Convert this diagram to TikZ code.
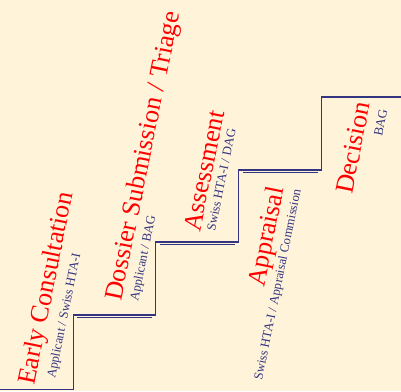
\documentclass[tikz,border=0pt]{standalone}
\usepackage{fontspec}
\setmainfont{Liberation Serif}
\definecolor{bg}{RGB}{255,244,218}
\definecolor{navy}{RGB}{52,52,128}
\begin{document}
\begin{tikzpicture}[x=1pt,y=-1pt,
  stair/.style={draw=navy, line width=1.2pt, line join=miter},
  echo/.style={draw=navy, line width=0.8pt},
  stage/.style={text=red, font=\fontsize{26}{26}\selectfont, rotate=78.5, anchor=base west, inner sep=0pt},
  actor/.style={text=navy, font=\fontsize{12.8}{13}\selectfont, rotate=78.5, anchor=base west, inner sep=0pt}]
\fill[bg] (0,0) rectangle (401,391);
\useasboundingbox (0,0) rectangle (401,391);
% staircase corners
\coordinate (c0) at (0,389.5);
\coordinate (c1) at (73.5,389.5);
\coordinate (c2) at (73.5,315);
\coordinate (c3) at (155.5,315);
\coordinate (c4) at (155.5,242);
\coordinate (c5) at (238.5,242);
\coordinate (c6) at (238.5,170);
\coordinate (c7) at (321.5,170);
\coordinate (c8) at (321.5,97);
\coordinate (c9) at (401,97);
\draw[stair] (c0) -- (c1) -- (c2) -- (c3) -- (c4) -- (c5) -- (c6) -- (c7) -- (c8) -- (c9);
% echo lines under the treads
\coordinate (e1a) at (77,317.3);
\coordinate (e1b) at (152,317.3);
\coordinate (e2a) at (160,244.3);
\coordinate (e2b) at (235,244.3);
\coordinate (e3a) at (243,172.3);
\coordinate (e3b) at (318,172.3);
\draw[echo] (e1a) -- (e1b);
\draw[echo] (e2a) -- (e2b);
\draw[echo] (e3a) -- (e3b);
% labels
\node[stage] (t1) at (34,386) {Early Consultation};
\node[actor] (a1) at (55,379) {Applicant / Swiss HTA-I};
\node[stage] (t2) at (121,302) {Dossier Submission / Triage};
\node[actor] (a2) at (138,302) {Applicant / BAG};
\node[stage] (t3) at (200,233) {Assessment};
\node[actor] (a3) at (215,232) {Swiss HTA-I / DAG};
\node[stage] (t4) at (264,288) {Appraisal};
\node[actor] (a4) at (262,381) {Swiss HTA-I / Appraisal Commission};
\node[stage] (t5) at (352,195) {Decision};
\node[actor] (a5) at (382,137) {BAG};
\end{tikzpicture}
\end{document}
